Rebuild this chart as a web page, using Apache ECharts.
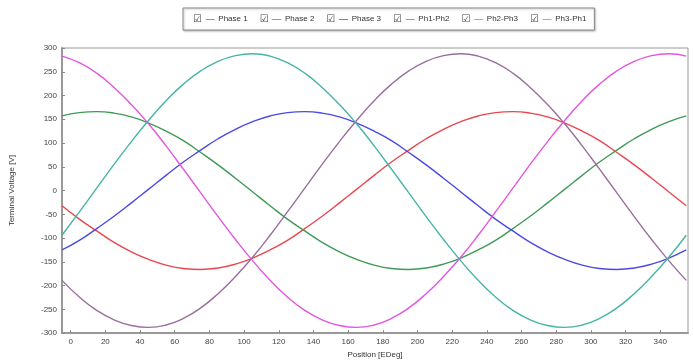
<!DOCTYPE html>
<html>
<head>
<meta charset="utf-8">
<script src="https://cdn.jsdelivr.net/npm/echarts@6/dist/echarts.min.js"></script>
<style>html,body{margin:0;padding:0;background:#fff;}#c{width:694px;height:364px;}</style>
</head>
<body>
<div id="c"></div>
<script>
const positions = [-5,5,15,25,35,45,55,65,75,85,95,105,115,125,135,145,155,165,175,185,195,205,215,225,235,245,255,265,275,285,295,305,315,325,335,345,355];
const phase1 = [-32,-60,-85,-109,-129,-145,-157,-164,-166,-163,-155,-142,-125,-105,-80,-54,-26,3,32,60,85,109,129,145,157,164,166,163,155,142,125,105,80,54,26,-3,-32];
const phase2 = [157,164,166,163,155,142,125,105,80,54,26,-3,-32,-60,-85,-109,-129,-145,-157,-164,-166,-163,-155,-142,-125,-105,-80,-54,-26,3,32,60,85,109,129,145,157];
const phase3 = [-125,-105,-80,-54,-26,3,32,60,85,109,129,145,157,164,166,163,155,142,125,105,80,54,26,-3,-32,-60,-85,-109,-129,-145,-157,-164,-166,-163,-155,-142,-125];
const ph1ph2 = [-189,-224,-252,-272,-284,-288,-283,-269,-247,-217,-181,-140,-94,-45,5,55,103,148,189,224,252,272,284,288,283,269,247,217,181,140,94,45,-5,-55,-103,-148,-189];
const ph2ph3 = [283,269,247,217,181,140,94,45,-5,-55,-103,-148,-189,-224,-252,-272,-284,-288,-283,-269,-247,-217,-181,-140,-94,-45,5,55,103,148,189,224,252,272,284,288,283];
const ph3ph1 = [-94,-45,5,55,103,148,189,224,252,272,284,288,283,269,247,217,181,140,94,45,-5,-55,-103,-148,-189,-224,-252,-272,-284,-288,-283,-269,-247,-217,-181,-140,-94];
const seriesNames = ['Phase 1','Phase 2','Phase 3','Ph1-Ph2','Ph2-Ph3','Ph3-Ph1'];
const seriesData = [phase1, phase2, phase3, ph1ph2, ph2ph3, ph3ph1];
const colors = ['#e8474f','#3f9a55','#4a4ae6','#9a6e9e','#e455e0','#45b5a5'];
const xTicks = [0,20,40,60,80,100,120,140,160,180,200,220,240,260,280,300,320,340];

const rich = {
  cb: {fontSize: 10, color: '#444', fontFamily: 'DejaVu Sans'},
  t: {fontSize: 8, color: '#333', fontFamily: 'Liberation Sans'}
};
colors.forEach((c, i) => { rich['l' + i] = {fontSize: 10, color: c, fontFamily: 'DejaVu Sans'}; });

const chart = echarts.init(document.getElementById('c'), null, {renderer: 'canvas'});
chart.setOption({
  backgroundColor: '#fff',
  animation: false,
  color: colors,
  legend: {
    left: 183, top: 8,
    icon: 'none', itemWidth: 1, itemHeight: 8, itemGap: 6,
    padding: [6, 8, 6, 4],
    borderColor: '#888', borderWidth: 1,
    shadowColor: 'rgba(0,0,0,0.25)', shadowBlur: 2, shadowOffsetX: 1, shadowOffsetY: 1,
    backgroundColor: '#fff',
    data: seriesNames,
    formatter: function (name) {
      const i = seriesNames.indexOf(name);
      return '{cb|\u2611}{l' + i + '| \u2014 }{t|' + name + '}';
    },
    textStyle: {rich: rich}
  },
  grid: {left: 60, right: 6, top: 48, bottom: 26, show: true, borderColor: '#999', borderWidth: 1},
  xAxis: {
    type: 'value', min: -5, max: 356,
    name: 'Position [EDeg]', nameLocation: 'middle', nameGap: 16,
    nameTextStyle: {fontSize: 8, color: '#333', fontFamily: 'Liberation Sans'},
    axisLine: {onZero: false, lineStyle: {color: '#999', width: 2}},
    axisTick: {inside: true, length: 3, lineStyle: {color: '#888'}, customValues: xTicks},
    axisLabel: {fontSize: 8, color: '#444', fontFamily: 'Liberation Sans', margin: 5, customValues: xTicks},
    splitLine: {show: false}
  },
  yAxis: {
    type: 'value', min: -300, max: 300, interval: 50,
    name: 'Terminal Voltage [V]', nameLocation: 'middle', nameGap: 46,
    nameTextStyle: {fontSize: 8, color: '#333', fontFamily: 'Liberation Sans'},
    axisLine: {show: true, onZero: false, lineStyle: {color: '#999', width: 2}},
    axisTick: {show: true, inside: true, length: 3, lineStyle: {color: '#888'}},
    axisLabel: {fontSize: 8, color: '#444', fontFamily: 'Liberation Sans', margin: 5},
    splitLine: {show: false}
  },
  series: seriesNames.map((n, i) => ({
    name: n, type: 'line', smooth: true, showSymbol: false, symbol: 'none',
    lineStyle: {width: 1.4, color: colors[i]},
    itemStyle: {color: colors[i]},
    data: positions.map((x, j) => [x, seriesData[i][j]])
  }))
});
</script>
</body>
</html>
